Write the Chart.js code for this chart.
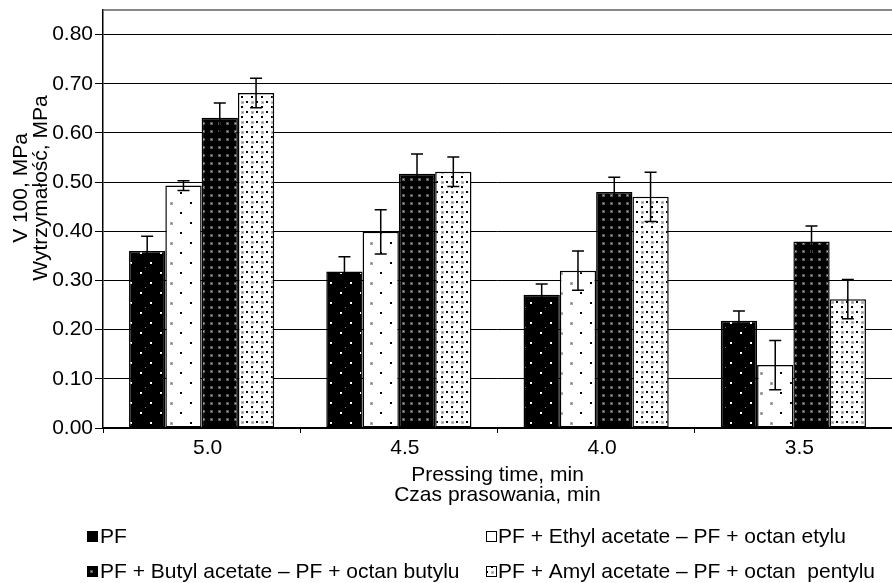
<!DOCTYPE html>
<html><head><meta charset="utf-8">
<script src="https://cdn.jsdelivr.net/npm/chart.js@4/dist/chart.umd.min.js"></script>
<style>html,body{margin:0;padding:0;background:#fff}#wrap{width:892px;height:583px}</style>
</head><body><div id="wrap"><canvas id="c" width="892" height="583"></canvas></div>
<script>
const categories = ['5.0', '4.5', '4.0', '3.5'];
const seriesNames = [
  'PF',
  'PF + Ethyl acetate \u2013 PF + octan etylu',
  'PF + Butyl acetate \u2013 PF + octan butylu',
  'PF + Amyl acetate \u2013 PF + octan  pentylu'
];
const pfValues     = [0.360, 0.318, 0.271, 0.218];
const pfErrors     = [0.030, 0.030, 0.022, 0.020];
const ethylValues  = [0.493, 0.399, 0.320, 0.128];
const ethylErrors  = [0.010, 0.045, 0.040, 0.050];
const butylValues  = [0.631, 0.517, 0.480, 0.379];
const butylErrors  = [0.030, 0.040, 0.030, 0.032];
const amylValues   = [0.681, 0.521, 0.470, 0.262];
const amylErrors   = [0.030, 0.030, 0.050, 0.040];
const yTicks = [0, 0.1, 0.2, 0.3, 0.4, 0.5, 0.6, 0.7, 0.8];
const yTitleLines = ['V 100, MPa', 'Wytrzyma\u0142o\u015b\u0107, MPa'];
const xTitleLines = ['Pressing time, min', 'Czas prasowania, min'];

const FONT = '"Liberation Sans", Arial, sans-serif';
const FS = 21;

function makePattern(w, h, bg, draw) {
  const c = document.createElement('canvas');
  c.width = w; c.height = h;
  const x = c.getContext('2d');
  x.fillStyle = bg; x.fillRect(0, 0, w, h);
  draw(x);
  return x.createPattern(c, 'repeat');
}
function greyDot(x, cx, cy, edge, mid) {
  x.fillStyle = edge || '#999'; x.fillRect(cx - 1, cy - 1, 3, 3);
  x.fillStyle = mid || '#ccc'; x.fillRect(cx, cy, 1, 1);
}
const patPF = makePattern(20, 20, '#000', x => {
  x.fillStyle = '#fff'; x.fillRect(10, 2, 2, 2); x.fillRect(0, 12, 2, 2);
  x.fillStyle = '#777'; x.fillRect(5, 7, 1, 1);
});
const patEthyl = makePattern(40, 20, '#fff', x => {
  x.fillStyle = '#000'; x.fillRect(30, 2, 2, 2); x.fillRect(20, 12, 2, 2);
  greyDot(x, 11, 3, '#aaa', '#777'); greyDot(x, 1, 13, '#aaa', '#777');
});
const patButyl = makePattern(8, 8, '#000', x => {
  x.fillStyle = '#555'; x.fillRect(2, 2, 3, 3);
  x.fillStyle = '#bbb'; x.fillRect(3, 3, 1, 1);
});
const patAmyl = makePattern(10, 10, '#fff', x => {
  x.fillStyle = '#000'; x.fillRect(6, 1, 2, 2); x.fillRect(1, 6, 2, 2);
  greyDot(x, 2, 2, '#bbb', '#888'); 
});
const patterns = [patPF, patEthyl, patButyl, patAmyl];
const valueSets = [pfValues, ethylValues, butylValues, amylValues];
const errorSets = [pfErrors, ethylErrors, butylErrors, amylErrors];

const datasets = valueSets.map((v, i) => ({
  label: seriesNames[i],
  data: v,
  errors: errorSets[i],
  backgroundColor: patterns[i],
  borderColor: '#000',
  borderWidth: 1.5,
  borderSkipped: false,
  categoryPercentage: 0.736,
  barPercentage: 1.0
}));

const errorBarPlugin = {
  id: 'errorBars',
  afterDatasetsDraw(chart) {
    const c = chart.ctx, ys = chart.scales.y;
    c.save();
    c.strokeStyle = '#000'; c.lineWidth = 1.5;
    chart.data.datasets.forEach((ds, di) => {
      const meta = chart.getDatasetMeta(di);
      meta.data.forEach((el, i) => {
        const v = ds.data[i], e = ds.errors[i];
        const yt = ys.getPixelForValue(v + e), yb = ys.getPixelForValue(v - e);
        const x = el.x;
        c.beginPath();
        c.moveTo(x, yt); c.lineTo(x, yb);
        c.moveTo(x - 6, yt); c.lineTo(x + 6, yt);
        c.moveTo(x - 6, yb); c.lineTo(x + 6, yb);
        c.stroke();
      });
    });
    c.restore();
  }
};

const textPlugin = {
  id: 'texts',
  afterDraw(chart) {
    const c = chart.ctx, a = chart.chartArea;
    c.save();
    c.fillStyle = '#000';
    c.font = FS + 'px ' + FONT;
    c.textAlign = 'center'; c.textBaseline = 'middle';
    const yc = 188;
    [21, 41].forEach((xx, i) => {
      c.save(); c.translate(xx, yc); c.rotate(-Math.PI / 2);
      c.fillText(yTitleLines[i], 0, 0); c.restore();
    });
    const xc = (a.left + a.right) / 2;
    c.fillText(xTitleLines[0], xc, 475);
    c.fillText(xTitleLines[1], xc, 495);
    const cols = [[87, 100], [486, 498]];
    const rows = [537, 572];
    const order = [[0, 0, 0], [1, 1, 0], [2, 0, 1], [3, 1, 1]];
    c.textAlign = 'left';
    order.forEach(([di, col, row]) => {
      const [bx, tx] = cols[col];
      const y = rows[row];
      c.fillStyle = patterns[di];
      c.fillRect(bx, y - 6, 11, 11);
      c.strokeStyle = '#000'; c.lineWidth = 1;
      c.strokeRect(bx + 0.5, y - 5.5, 10, 10);
      c.fillStyle = '#000';
      c.fillText(chart.data.datasets[di].label, tx, y);
    });
    c.restore();
  }
};

new Chart(document.getElementById('c'), {
  type: 'bar',
  data: { labels: categories, datasets },
  options: {
    responsive: false,
    animation: false,
    layout: { padding: { top: 10, left: 0, right: 0, bottom: 0 } },
    plugins: { legend: { display: false }, tooltip: { enabled: false } },
    scales: {
      x: {
        afterFit(s) { s.height = 155; s.paddingLeft = 0; s.paddingRight = 0; },
        grid: { display: true, drawOnChartArea: false, drawTicks: true, tickLength: 5, color: '#000', offset: true },
        border: { color: '#000', width: 1.5 },
        ticks: { color: '#000', font: { family: FONT, size: FS }, padding: 3, labelOffset: 6 }
      },
      y: {
        min: 0, max: 0.85,
        afterFit(s) { s.width = 103; s.paddingTop = 0; s.paddingBottom = 0; },
        afterBuildTicks(s) {
          s.ticks = yTicks.map(v => ({ value: v })).concat([{ value: 0.85 }]);
        },
        grid: {
          color: c => (c.tick && c.tick.value > 0.81) ? '#888' : '#000',
          lineWidth: c => (c.tick && c.tick.value > 0.81) ? 2 : 1,
          tickColor: c => (c.tick && c.tick.value > 0.81) ? 'rgba(0,0,0,0)' : '#000',
          tickLength: 8
        },
        border: { color: '#000', width: 1.5 },
        ticks: {
          color: '#000', font: { family: FONT, size: FS }, padding: 2,
          callback: v => v > 0.81 ? '' : Number(v).toFixed(2)
        }
      }
    }
  },
  plugins: [errorBarPlugin, textPlugin]
});
</script></body></html>
